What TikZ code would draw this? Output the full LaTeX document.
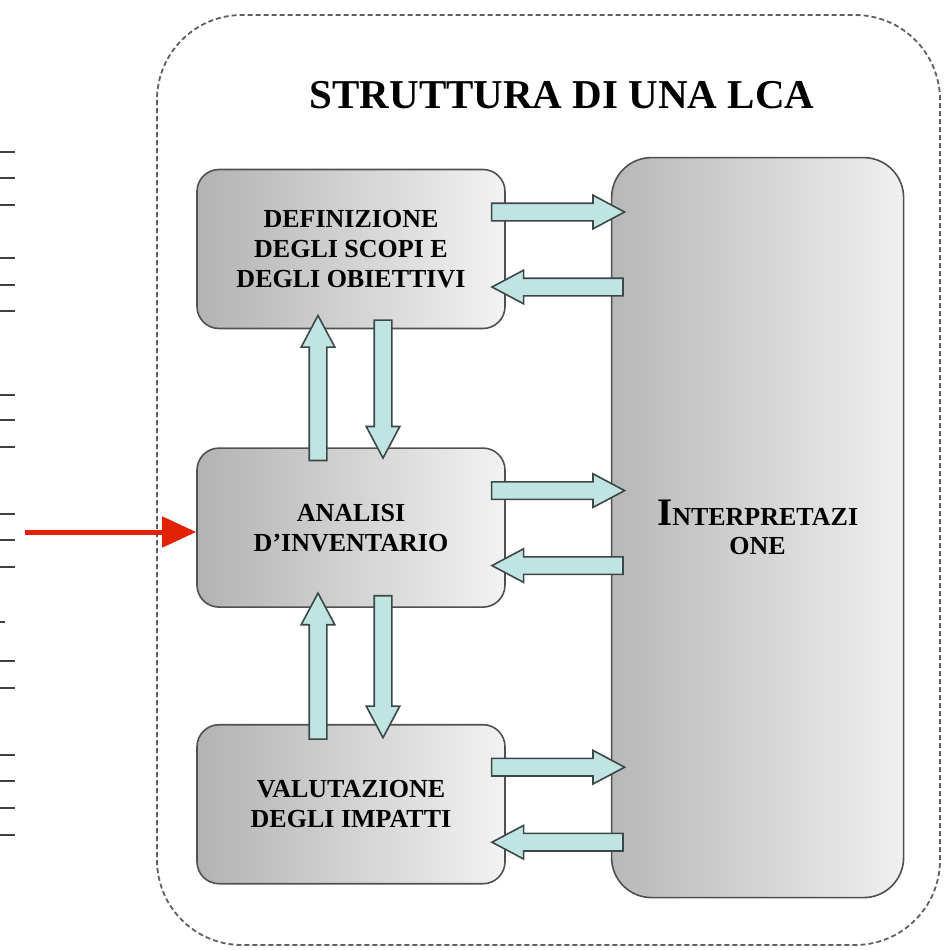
\documentclass[tikz,border=0pt]{standalone}
\usepackage{fontspec}
\setmainfont{Liberation Serif}
\usepackage{tikz}
\usetikzlibrary{positioning,calc,shapes.arrows,arrows.meta}
\definecolor{arrowfill}{RGB}{192,228,226}
\definecolor{arrowline}{RGB}{60,72,72}
\definecolor{boxline}{RGB}{80,80,80}
\definecolor{framegray}{RGB}{95,95,95}
\definecolor{pointer}{RGB}{226,34,4}
\newcommand{\boxfont}{\bfseries\fontsize{26}{30}\selectfont}

\begin{document}
\begin{tikzpicture}[x=1pt, y=1pt,
		phase/.style={draw=boxline, line width=1.6pt, rounded corners=22pt, left color=black!30, right color=black!5, minimum width=308pt, minimum height=159pt, align=center, font=\boxfont},
		bigphase/.style={draw=boxline, line width=1.6pt, rounded corners=40pt, left color=black!28, right color=black!6, minimum width=292pt, minimum height=740pt, align=center, font=\bfseries\fontsize{26}{29}\selectfont},
		blockarrow/.style={to path={let \p1=(\tikztostart), \p2=(\tikztotarget), \n1={veclen(\x2-\x1,\y2-\y1)}, \n2={atan2(\y2-\y1,\x2-\x1)} in node[single arrow, draw=arrowline, fill=arrowfill, line width=1.6pt, inner xsep=0pt, inner ysep=8pt, minimum width=32pt, single arrow head extend=8pt, single arrow tip angle=56, minimum height=\n1, rotate=\n2, anchor=tail] at (\p1) {}}}
	]
	\useasboundingbox (0,0) rectangle (944,-950);
	\draw[framegray, line width=1.8pt, dash pattern=on 5pt off 3pt, rounded corners=85pt] (157,-15) rectangle (940,-945);
	\node (title) at (562,-95) {\bfseries\fontsize{41}{44}\selectfont STRUTTURA DI UNA LCA};
	\node[phase] (def) at (351,-249) {DEFINIZIONE\\DEGLI SCOPI E\\DEGLI OBIETTIVI};
	\node[phase, below=118pt of def] (ana) {ANALISI\\D'INVENTARIO};
	\node[phase, below=116pt of ana] (val) {VALUTAZIONE\\DEGLI IMPATTI};
	\node[bigphase, right=105pt of ana] (interp) {{\fontsize{39}{29}\selectfont I}NTERPRETAZI\\ONE};
	\foreach \b in {def,ana,val}{
		\coordinate (\b-out) at ($(\b.east)+(0,37)$);
		\coordinate (\b-in) at ($(\b.east)+(0,-38)$);
		\path ($(\b-out)+(-15,0)$) edge[blockarrow] ($(\b-out -| interp.west)+(13,0)$)
			($(\b-in -| interp.west)+(13,0)$) edge[blockarrow] ($(\b-in)+(-13,0)$);
	}
	\path ($(ana.north)+(-33,-14)$) edge[blockarrow] ($(def.south)+(-33,13)$)
		($(def.south)+(32,10)$) edge[blockarrow] ($(ana.north)+(32,-10)$)
		($(val.north)+(-33,-16)$) edge[blockarrow] ($(ana.south)+(-33,14)$)
		($(ana.south)+(32,13)$) edge[blockarrow] ($(val.north)+(32,-13)$);
	\foreach \t in {152,178,205,258,285,311,395,420,447,514,540,567,661,688,755,781,808,835}
		\draw[black!75, line width=1.6pt] (0,-\t) -- (15,-\t);
	\draw[black!75, line width=1.6pt] (0,-622) -- (5,-622);
	\coordinate (cue) at (25,-532);
	\draw[pointer, line width=5pt, -{Triangle[length=34pt,width=30pt]}] (cue) -- (cue -| ana.west);
\end{tikzpicture}
\end{document}
